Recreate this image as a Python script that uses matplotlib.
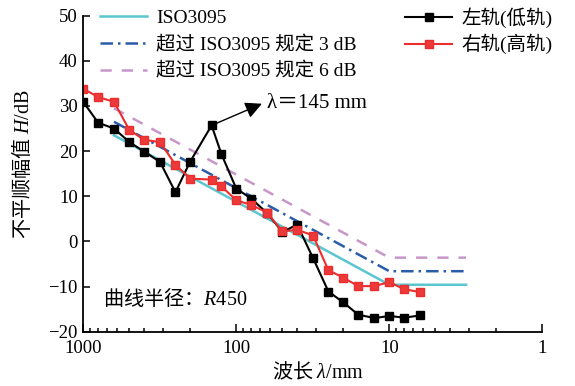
import matplotlib
matplotlib.use('Agg')
import matplotlib.pyplot as plt
from matplotlib.ticker import LogLocator, FixedLocator, FixedFormatter, NullFormatter

plt.rcParams['font.family'] = ['Liberation Serif', 'Noto Sans CJK SC']
plt.rcParams['mathtext.fontset'] = 'custom'
plt.rcParams['mathtext.rm'] = 'Liberation Serif'
plt.rcParams['mathtext.it'] = 'Liberation Serif:italic'

# Wavelength bands (mm)
wavelength = [1000, 800, 630, 500, 400, 315, 250, 200, 145, 125, 100, 80, 63,
              50, 40, 31.5, 25, 20, 16, 12.5, 10, 8, 6.3]
left_rail = [30.9, 26.3, 25.0, 22.0, 19.9, 17.6, 10.9, 17.7, 25.7, 19.3, 11.7,
             9.5, 6.3, 2.1, 3.7, -3.7, -11.1, -13.5, -16.2, -17.0, -16.5, -16.9, -16.4]
right_rail = [33.8, 32.0, 30.9, 24.7, 22.5, 22.0, 17.0, 13.9, 13.7, 12.2, 9.1,
              8.1, 6.4, 2.2, 2.6, 1.3, -6.4, -8.0, -9.9, -9.9, -9.0, -10.6, -11.2]

# ISO3095 limit curves
iso_wavelength = [630, 10, 3.15]
iso_limit = [23.5, -9.6, -9.6]
iso_plus3 = [26.5, -6.6, -6.6]
iso_plus6 = [29.5, -3.6, -3.6]

fig = plt.figure(figsize=(5.75, 3.86), dpi=100)
ax = fig.add_axes([83.3 / 575, 1 - 331.7 / 386, 459 / 575, 316 / 386])

l1, = ax.plot(iso_wavelength, iso_limit, color='#5bc6d0', lw=1.8, label='ISO3095')
l2, = ax.plot(iso_wavelength, iso_plus3, color='#2a5caa', lw=1.8,
              dashes=(5, 2, 1, 2), label='超过 ISO3095 规定 3 dB')
l3, = ax.plot(iso_wavelength, iso_plus6, color='#c797ca', lw=1.8,
              dashes=(4.5, 4), label='超过 ISO3095 规定 6 dB')
l4, = ax.plot(wavelength, left_rail, color='black', lw=1.5, marker='s',
              markersize=5.5, label='左轨(低轨)')
l5, = ax.plot(wavelength, right_rail, color='#ec2d2d', lw=1.5, marker='s',
              markersize=5.5, markerfacecolor='#ec3a3a', label='右轨(高轨)')

ax.set_xscale('log')
ax.set_xlim(1000, 1)
ax.set_ylim(-20, 50)
ax.xaxis.set_major_locator(FixedLocator([1000, 100, 10, 1]))
ax.xaxis.set_major_formatter(FixedFormatter(['1000', '100', '10', '1']))
ax.xaxis.set_minor_locator(LogLocator(base=10, subs=range(2, 10)))
ax.xaxis.set_minor_formatter(NullFormatter())
ax.set_yticks(range(-20, 51, 10))
ax.set_yticklabels(['−20', '−10', '0', '10', '20', '30', '40', '50'])

for s in ['top', 'right']:
    ax.spines[s].set_visible(False)
for s in ['left', 'bottom']:
    ax.spines[s].set_linewidth(1.3)
ax.tick_params(which='both', direction='in', width=1.1, labelsize=13.5)
ax.tick_params(axis='y', which='major', length=5, pad=4)
ax.tick_params(axis='x', which='major', length=6, pad=6)
ax.tick_params(axis='x', which='minor', length=3)

# annotation for the peak
ax.annotate('', xy=(68, 30.5), xytext=(145, 25.7),
            arrowprops=dict(arrowstyle='-|>', color='black', lw=1.0,
                            mutation_scale=25, shrinkA=0, shrinkB=0))
ax.text(63, 30.5, 'λ＝145 mm', ha='left', va='center', fontsize=15)

ax.text(0.043, 0.107, r'曲线半径：$R\mathrm{450}$', transform=ax.transAxes,
        ha='left', va='center', fontsize=14.5, family='Noto Sans CJK SC')

fig.text(22 / 575, 1 - 164 / 386, r'不平顺幅值 $H\mathrm{/dB}$', rotation=90,
         ha='center', va='center', fontsize=14.5, family='Noto Sans CJK SC')
fig.text(318 / 575, 1 - 372 / 386, r'波长 $\lambda\mathrm{/mm}$',
         ha='center', va='center', fontsize=14.5, family='Noto Sans CJK SC')

leg1 = fig.legend(handles=[l1, l2, l3], loc='upper left',
                  bbox_to_anchor=(100 / 575, 0.975), frameon=False, fontsize=14,
                  borderpad=0, borderaxespad=0, handlelength=2.42,
                  handletextpad=0.46, labelspacing=0.45)
leg2 = fig.legend(handles=[l4, l5], loc='upper left',
                  bbox_to_anchor=(405 / 575, 0.982), frameon=False, fontsize=14,
                  borderpad=0, borderaxespad=0, handlelength=2.42,
                  handletextpad=0.5, labelspacing=0.33)

fig.savefig('out.png', dpi=100)
